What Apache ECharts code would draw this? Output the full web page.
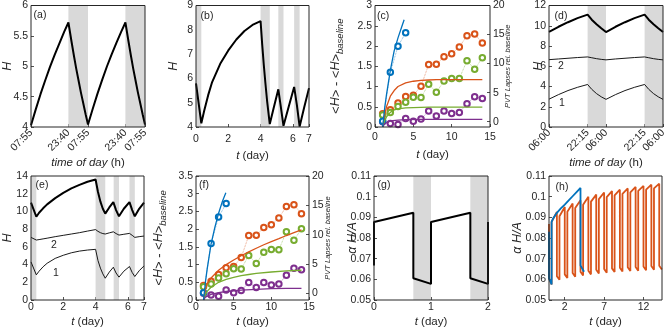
<!DOCTYPE html>
<html>
<head>
<meta charset="utf-8">
<script src="https://cdn.jsdelivr.net/npm/echarts@6/dist/echarts.min.js"></script>
<style>
  html, body { margin: 0; padding: 0; background: #fff; }
  #chart { width: 671px; height: 329px; }
</style>
</head>
<body>
<div id="chart"></div>
<script>
// ---- (a) H over two days, hours since 07:55
const hoursA = [0, 2, 4, 6, 8, 10, 12, 14, 15.75, 17, 18, 19, 20, 21, 22, 23, 24,
  26, 28, 30, 32, 34, 36, 38, 39.75, 41, 42, 43, 44, 45, 46, 47, 48];
const valsA = [4.03, 4.29, 4.54, 4.77, 4.99, 5.19, 5.38, 5.57, 5.72, 5.42, 5.19, 4.97, 4.77, 4.57, 4.39, 4.21, 4.04,
  4.3, 4.55, 4.78, 5.0, 5.2, 5.39, 5.57, 5.72, 5.42, 5.19, 4.97, 4.77, 4.57, 4.39, 4.21, 4.04];
const sleepA = [[15.75, 24], [39.75, 48]];
const ticksA = [0, 15.75, 24, 39.75, 48];
const tickLabelsA = ['07:55', '23:40', '07:55', '23:40', '07:55'];

// ---- (b) H over a week with sleep deprivation
const daysB = [0, 0.33, 0.5, 0.75, 1, 1.5, 2, 2.5, 3, 3.5, 4, 4.1, 4.2, 4.3, 4.4, 4.57, 4.8, 5.1, 5.25, 5.42, 5.75, 6.08, 6.25, 6.42, 6.7, 7];
const valsB = [5.8, 4.15, 4.65, 5.3, 5.85, 6.6, 7.15, 7.6, 7.95, 8.2, 8.36, 7.4, 6.55, 5.8, 5.1, 4.12, 4.75, 5.55, 4.85, 4.05, 4.85, 5.65, 4.9, 4.02, 4.8, 5.6];
const sleepB = [[0, 0.33], [4, 4.57], [5.1, 5.42], [6.08, 6.42]];

// ---- (c)/(f) PVT lapses (right axis), study days 1..14
const studyDays = [1, 2, 3, 4, 5, 6, 7, 8, 9, 10, 11, 12, 13, 14];
const lapsesBlue = [0.1, 8.5, 13.0, 15.3];
const lapsesOrange = [1.35, 2.05, 3.2, 4.35, 4.57, 6.1, 9.85, 9.9, 11.2, 11.7, 12.85, 14.8, 15.1, 13.55];
const lapsesGreen = [1.14, 1.6, 2.6, 3.35, 4.2, 4.15, 6.46, 5.07, 7.0, 7.45, 7.43, 10.5, 9.03, 11.0];
const lapsesPurple = [0, -0.3, -0.5, 0.57, 0.1, 0.46, 1.83, 1.0, 1.85, 1.4, 1.57, 3.1, 4.29, 4.0];

// (c) model <H> - <H>baseline
const cBlueT = [1, 1.25, 1.5, 2, 2.5, 3, 3.5, 3.8];
const cBlueV = [0, 0.45, 0.8, 1.4, 1.88, 2.2, 2.48, 2.65];
const cOrangeT = [1, 1.25, 1.5, 2, 2.5, 3, 4, 5, 6, 7, 8, 10, 14];
const cOrangeV = [0, 0.3, 0.5, 0.76, 0.9, 1.0, 1.09, 1.13, 1.15, 1.16, 1.17, 1.17, 1.17];
const cGreenT = [1, 1.25, 1.5, 2, 2.5, 3, 4, 5, 7, 14];
const cGreenV = [0, 0.15, 0.25, 0.36, 0.42, 0.45, 0.47, 0.48, 0.49, 0.49];
const cPurpleT = [1, 1.25, 1.5, 2, 3, 4, 6, 14];
const cPurpleV = [0, 0.08, 0.12, 0.15, 0.17, 0.18, 0.19, 0.19];

// (f) model <H> - <H>baseline
const fBlueT = [1, 1.25, 1.5, 2, 2.5, 3, 3.5, 3.96];
const fBlueV = [0, 0.5, 0.9, 1.58, 2.05, 2.45, 2.78, 3.03];
const fOrangeT = [1, 1.25, 1.5, 2, 3, 4, 5, 6, 7, 8, 9, 10, 11, 12, 13, 14];
const fOrangeV = [0, 0.3, 0.46, 0.62, 0.84, 1.0, 1.13, 1.25, 1.36, 1.46, 1.56, 1.65, 1.73, 1.82, 1.9, 1.98];
const fGreenT = [1, 1.25, 1.5, 2, 3, 4, 5, 6, 7, 8, 10, 12, 14];
const fGreenV = [0, 0.15, 0.25, 0.36, 0.5, 0.58, 0.64, 0.69, 0.72, 0.75, 0.79, 0.82, 0.84];
const fPurpleT = [1, 1.25, 1.5, 2, 3, 4, 6, 8, 10, 12, 14];
const fPurpleV = [0, 0.08, 0.12, 0.16, 0.21, 0.24, 0.28, 0.3, 0.32, 0.33, 0.33];

// ---- (d) three H curves over two days, hours since 06:00
const hoursD = [0, 4, 8, 12, 16.25, 18, 20, 22, 24, 28, 32, 36, 40.25, 42, 44, 46, 48];
const dTop = [9.4, 9.9, 10.35, 10.75, 11.1, 10.6, 10.15, 9.75, 9.38, 9.9, 10.35, 10.75, 11.1, 10.6, 10.15, 9.75, 9.38];
const dTwo = [6.65, 6.72, 6.79, 6.86, 6.92, 6.84, 6.75, 6.68, 6.63, 6.72, 6.79, 6.86, 6.92, 6.84, 6.75, 6.68, 6.63];
const dOne = [2.75, 3.2, 3.6, 3.92, 4.2, 3.72, 3.3, 2.98, 2.73, 3.2, 3.6, 3.92, 4.2, 3.72, 3.3, 2.98, 2.73];
const sleepD = [[16.25, 24], [40.25, 48]];
const ticksD = [0, 16.25, 24, 40.25, 48];
const tickLabelsD = ['06:00', '22:15', '06:00', '22:15', '06:00'];

// ---- (e) three H curves over a week
const daysE = [0, 0.33, 0.5, 0.75, 1, 1.5, 2, 2.5, 3, 3.5, 4, 4.15, 4.3, 4.45, 4.6, 4.85, 5.1, 5.27, 5.45, 5.75, 6.1, 6.27, 6.43, 6.7, 7];
const eTop = [11.0, 9.4, 9.85, 10.35, 10.8, 11.5, 12.1, 12.6, 13.0, 13.35, 13.6, 12.2, 11.1, 10.3, 9.75, 10.45, 11.05, 10.15, 9.45, 10.3, 11.05, 10.15, 9.45, 10.3, 11.0];
const eTwo = [7.07, 6.77, 6.82, 6.9, 6.98, 7.15, 7.3, 7.45, 7.6, 7.78, 7.95, 7.75, 7.6, 7.5, 7.45, 7.58, 7.7, 7.5, 7.33, 7.42, 7.52, 7.3, 7.07, 7.15, 7.22];
const eOne = [4.3, 2.84, 3.25, 3.75, 4.15, 4.7, 5.05, 5.33, 5.52, 5.64, 5.72, 4.45, 3.6, 2.95, 2.46, 3.15, 3.7, 3.05, 2.58, 3.25, 3.78, 3.1, 2.65, 3.3, 3.85];
const sleepE = [[0, 0.33], [4, 4.6], [5.12, 5.45], [6.1, 6.43]];

// ---- (g) alpha H/A over two days
const daysG = [0, 0, 0.69, 0.69, 1, 1, 1.69, 1.69, 2, 2];
const valsG = [0.0667, 0.0877, 0.0922, 0.0605, 0.0578, 0.0877, 0.0922, 0.0605, 0.0578, 0.0877];
const sleepG = [[0.69, 1], [1.69, 2]];

// ---- (h) alpha H/A, blue = deprivation run, orange = daily schedule
const daysHBlue = [0, 0, 0.33, 0.33, 0.5, 1, 1.5, 2, 2.5, 3, 3.5, 4, 4, 4.45];
const valsHBlue = [0.083, 0.0605, 0.0575, 0.0878, 0.0893, 0.0922, 0.0943, 0.0962, 0.0982, 0.1002, 0.1022, 0.1042, 0.0667, 0.0637];
const sleepOnH = [0, 1, 2, 3, 4, 5, 6, 7, 8, 9, 10, 11, 12, 13, 14];
const sleepLenH = 0.33;
const orangeTop = [0.0868, 0.0926, 0.0950, 0.0967, 0.0983, 0.1000, 0.1010, 0.1020, 0.1027, 0.1034, 0.1040, 0.1047, 0.1052, 0.1058, 0.1063];
const orangeDrop = [0.0605, 0.0615, 0.0624, 0.0631, 0.0637, 0.0642, 0.0646, 0.0650, 0.0653, 0.0656, 0.0658, 0.0660, 0.0662, 0.0664, 0.0666];
const orangeSleepEnd = [0.0575, 0.0598, 0.0606, 0.0613, 0.0619, 0.0624, 0.0628, 0.0632, 0.0635, 0.0638, 0.0640, 0.0642, 0.0644, 0.0646, 0.0648];
const orangeWake = [0.0878, 0.0905, 0.0927, 0.0945, 0.0961, 0.0976, 0.0988, 0.0998, 0.1006, 0.1014, 0.1021, 0.1028, 0.1034, 0.1040];
const ticksH = [2, 7, 12];

const FONT = 'Liberation Sans, Arial, sans-serif';
const INK = '#262626';
const SHADE = '#d9d9d9';
const BLUE = '#0072BD', ORANGE = '#D95319', GREEN = '#77AC30', PURPLE = '#7E2F8E';

const pairs = (xs, ys) => xs.map((x, i) => [x, ys[i]]);

let orangeH = [];
sleepOnH.forEach((t, n) => {
  orangeH.push([t, orangeTop[n]], [t, orangeDrop[n]], [t + sleepLenH, orangeSleepEnd[n]]);
  if (n < orangeWake.length) orangeH.push([t + sleepLenH, orangeWake[n]]);
});

const gridBoxes = [
  [31, 5, 114, 122], [196, 5, 113, 122], [375, 5, 115, 122], [549, 5, 114, 122],
  [31, 176, 113, 124], [196, 176, 113, 124], [374, 176, 114, 124], [549, 176, 113, 124]
];
const grid = gridBoxes.map(b => ({
  left: b[0], top: b[1], width: b[2], height: b[3],
  show: true, borderColor: INK, borderWidth: 1, backgroundColor: 'transparent', z: 5
}));

const italicRich = {
  i: { fontStyle: 'italic', fontSize: 11.5, fontFamily: FONT, color: INK },
  s: { fontStyle: 'italic', fontSize: 9.5, fontFamily: FONT, color: INK, verticalAlign: 'bottom', lineHeight: 18 },
  h: { fontSize: 12.5, fontFamily: FONT, color: INK, lineHeight: 18 },
  hi: { fontSize: 12.5, fontStyle: 'italic', fontFamily: FONT, color: INK, lineHeight: 18 }
};

function tick(custom) {
  const t = { inside: true, length: 3, lineStyle: { color: INK, width: 0.8 } };
  if (custom) t.customValues = custom;
  return t;
}

function xAx(gi, min, max, o) {
  const lab = { color: INK, fontSize: 10.5, fontFamily: FONT, margin: o.margin };
  if (o.custom) lab.customValues = o.custom;
  if (o.fmt) lab.formatter = o.fmt;
  if (o.rotate) lab.rotate = o.rotate;
  return {
    type: 'value', gridIndex: gi, min: min, max: max, interval: o.interval,
    axisLine: { show: false }, axisTick: tick(o.custom), axisLabel: lab,
    splitLine: { show: false },
    name: o.name, nameLocation: 'middle', nameGap: o.gap, nameMoveOverlap: false,
    nameTextStyle: { color: INK, fontSize: 11.5, fontFamily: FONT, rich: italicRich }
  };
}

function yAx(gi, min, max, o) {
  const lab = { color: INK, fontSize: 10.5, fontFamily: FONT, margin: 3 };
  if (o.custom) lab.customValues = o.custom;
  return {
    type: 'value', gridIndex: gi, min: min, max: max, interval: o.interval,
    position: o.right ? 'right' : 'left',
    axisLine: { show: false }, axisTick: tick(o.custom), axisLabel: lab,
    splitLine: { show: false },
    name: o.name, nameLocation: 'middle', nameGap: o.gap, nameRotate: 90, nameMoveOverlap: false,
    nameTextStyle: Object.assign({ color: INK, fontSize: 13, fontFamily: FONT, rich: italicRich }, o.nameStyle || {})
  };
}

const tName = '{i|t} (day)';
const xAxis = [
  xAx(0, 0, 48, { custom: ticksA, fmt: v => tickLabelsA[ticksA.indexOf(v)], rotate: 45, margin: 4, name: '{i|time of day} (h)', gap: 30 }),
  xAx(1, 0, 7, { interval: 2, margin: 7, name: tName, gap: 23 }),
  xAx(2, 0, 15, { interval: 5, margin: 5, name: tName, gap: 22 }),
  xAx(3, 0, 48, { custom: ticksD, fmt: v => tickLabelsD[ticksD.indexOf(v)], rotate: 45, margin: 4, name: '{i|time of day} (h)', gap: 30 }),
  xAx(4, 0, 7, { interval: 2, margin: 2, name: tName, gap: 16 }),
  xAx(5, 0, 15, { interval: 5, margin: 2, name: tName, gap: 16 }),
  xAx(6, 0, 2, { interval: 1, margin: 2, name: tName, gap: 16 }),
  xAx(7, 0, 14.35, { custom: ticksH, margin: 2, name: tName, gap: 16 })
];

const hName = '{hi|H}';
const aName = '{hi|α H/A}';
const dName = '<{hi|H}> - <{hi|H}>{s|baseline}';
const pvtStyle = { fontSize: 7.5, fontStyle: 'italic' };
const yAxis = [
  yAx(0, 4, 6, { interval: 0.5, name: hName, gap: 14 }),
  yAx(1, 4, 9, { interval: 1, name: hName, gap: 13 }),
  yAx(2, 0, 3, { interval: 0.5, name: dName, gap: 30 }),
  yAx(3, 0, 12, { interval: 2, name: hName, gap: 1 }),
  yAx(4, 0, 14, { interval: 2, name: hName, gap: 14 }),
  yAx(5, 0, 3.5, { interval: 0.5, name: dName, gap: 28 }),
  yAx(6, 0.05, 0.11, { interval: 0.01, name: aName, gap: 12 }),
  yAx(7, 0.05, 0.11, { interval: 0.01, name: aName, gap: 22 }),
  yAx(2, -0.91, 20, { right: true, custom: [0, 5, 10, 15, 20], name: 'PVT Lapses rel. baseline', gap: 14, nameStyle: pvtStyle }),
  yAx(5, -1.14, 20, { right: true, custom: [0, 5, 10, 15, 20], name: 'PVT Lapses rel. baseline', gap: 15, nameStyle: pvtStyle })
];

function shade(list) {
  return { silent: true, itemStyle: { color: SHADE }, data: list.map(p => [{ xAxis: p[0] }, { xAxis: p[1] }]) };
}

function line(ax, ay, data, color, width, extra) {
  return Object.assign({
    type: 'line', xAxisIndex: ax, yAxisIndex: ay, data: data,
    symbol: 'none', showSymbol: false, silent: true, animation: false,
    lineStyle: { color: color, width: width }, itemStyle: { color: color }, z: 3
  }, extra || {});
}

function lapses(ax, ay, days, vals, color) {
  return {
    type: 'line', xAxisIndex: ax, yAxisIndex: ay, data: pairs(days, vals),
    symbol: 'emptyCircle', symbolSize: 5.5, showSymbol: true, silent: true, animation: false,
    lineStyle: { color: color, width: 0.8, type: 'dotted', opacity: 0.7 },
    itemStyle: { color: color, borderWidth: 0.9 }, z: 2
  };
}

const series = [
  // (a)
  line(0, 0, pairs(hoursA, valsA), '#000', 2, { markArea: shade(sleepA) }),
  // (b)
  line(1, 1, pairs(daysB, valsB), '#000', 2, { markArea: shade(sleepB) }),
  // (c)
  lapses(2, 8, studyDays, lapsesOrange, ORANGE),
  lapses(2, 8, studyDays, lapsesGreen, GREEN),
  lapses(2, 8, studyDays, lapsesPurple, PURPLE),
  lapses(2, 8, studyDays.slice(0, 4), lapsesBlue, BLUE),
  line(2, 2, pairs(cOrangeT, cOrangeV), ORANGE, 1.3),
  line(2, 2, pairs(cGreenT, cGreenV), GREEN, 1.3),
  line(2, 2, pairs(cPurpleT, cPurpleV), PURPLE, 1.3),
  line(2, 2, pairs(cBlueT, cBlueV), BLUE, 1.3),
  // (d)
  line(3, 3, pairs(hoursD, dTop), '#000', 2, { markArea: shade(sleepD) }),
  line(3, 3, pairs(hoursD, dTwo), '#000', 0.9),
  line(3, 3, pairs(hoursD, dOne), '#000', 0.9),
  // (e)
  line(4, 4, pairs(daysE, eTop), '#000', 2, { markArea: shade(sleepE) }),
  line(4, 4, pairs(daysE, eTwo), '#000', 0.9),
  line(4, 4, pairs(daysE, eOne), '#000', 0.9),
  // (f)
  lapses(5, 9, studyDays, lapsesOrange, ORANGE),
  lapses(5, 9, studyDays, lapsesGreen, GREEN),
  lapses(5, 9, studyDays, lapsesPurple, PURPLE),
  lapses(5, 9, studyDays.slice(0, 4), lapsesBlue, BLUE),
  line(5, 5, pairs(fOrangeT, fOrangeV), ORANGE, 1.3),
  line(5, 5, pairs(fGreenT, fGreenV), GREEN, 1.3),
  line(5, 5, pairs(fPurpleT, fPurpleV), PURPLE, 1.3),
  line(5, 5, pairs(fBlueT, fBlueV), BLUE, 1.3),
  // (g)
  line(6, 6, pairs(daysG, valsG), '#000', 2, { markArea: shade(sleepG) }),
  // (h)
  line(7, 7, orangeH, ORANGE, 1.8),
  line(7, 7, pairs(daysHBlue, valsHBlue), BLUE, 1.8)
];

function label(text, x, y) {
  return {
    type: 'text', x: x, y: y, z: 10, silent: true,
    style: { text: text, fill: INK, fontSize: 10.5, fontFamily: FONT, align: 'center', verticalAlign: 'middle' }
  };
}

const chart = echarts.init(document.getElementById('chart'), null, { renderer: 'canvas' });
chart.setOption({
  animation: false,
  backgroundColor: '#fff',
  textStyle: { fontFamily: FONT },
  grid: grid,
  xAxis: xAxis,
  yAxis: yAxis,
  series: series,
  graphic: [
    label('(a)', 40, 15), label('(b)', 207, 16), label('(c)', 383, 16), label('(d)', 561, 16),
    label('(e)', 42, 185), label('(f)', 204, 185), label('(g)', 384, 185), label('(h)', 562, 187),
    label('2', 561, 66), label('1', 562, 103),
    label('2', 54, 245), label('1', 56, 273)
  ]
});
</script>
</body>
</html>
